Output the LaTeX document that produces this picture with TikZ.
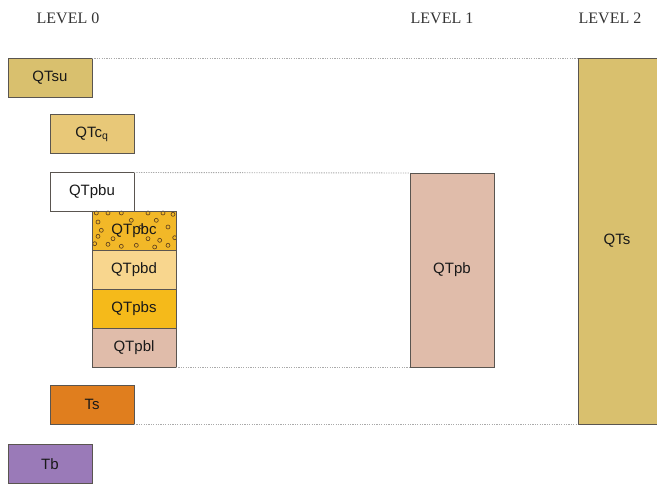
\documentclass[tikz,border=0pt]{standalone}
\usepackage{fontspec}
\setmainfont{Liberation Serif}
\newfontfamily\boxfont{Liberation Sans}
\definecolor{gold}{RGB}{217,192,110}
\definecolor{goldlight}{RGB}{232,200,120}
\definecolor{amber}{RGB}{242,184,40}
\definecolor{sand}{RGB}{248,214,142}
\definecolor{saffron}{RGB}{245,186,26}
\definecolor{rosebeige}{RGB}{224,188,170}
\definecolor{burnt}{RGB}{224,126,30}
\definecolor{lavender}{RGB}{154,122,184}
\definecolor{edge}{RGB}{90,85,80}
\definecolor{dotline}{RGB}{170,170,170}
\tikzset{
  unitfont/.style={font=\boxfont\fontsize{15}{17}\selectfont, text=black!90},
  unit/.style={draw=edge, line width=0.9pt, inner sep=0pt, outer sep=0pt,
    minimum width=84pt, minimum height=39pt, unitfont},
  guide/.style={draw=dotline, line width=0.9pt, dash pattern=on 1.2pt off 1.2pt},
  level/.style={font=\fontsize{16}{19}\selectfont, text=black!80},
  grain/.style={draw=black!55!brown, line width=0.6pt}
}
\begin{document}
\begin{tikzpicture}[x=1pt,y=-1pt]
\useasboundingbox (0,0) rectangle (657,484);
\clip (0,0) rectangle (657,484);

% level headings
\node[level] (l0) at (68,18) {LEVEL 0};
\node[level] (l1) at (442,18) {LEVEL 1};
\node[level] (l2) at (610,18) {LEVEL 2};

% level 0 units
\node[unit, fill=gold] (qtsu) at (50,77.5) {QTsu};
\node[unit, fill=goldlight] (qtcq) at (92,134) {QTc\textsubscript{q}};
\node[unit, fill=white] (qtpbu) at (92,192) {QTpbu};
\node[unit, fill=amber] (qtpbc) at (134,230.5) {};
\node[unit, fill=sand] (qtpbd) at (134,269.5) {QTpbd};
\node[unit, fill=saffron] (qtpbs) at (134,308.5) {QTpbs};
\node[unit, fill=rosebeige] (qtpbl) at (134,347.5) {QTpbl};
\node[unit, fill=burnt] (ts) at (92,404.5) {Ts};
\node[unit, fill=lavender] (tb) at (50,464) {Tb};

% gravel texture of QTpbc
\begin{scope}
\clip (qtpbc.south west) rectangle (qtpbc.north east);
\foreach \px/\py in {96.3/213,108/213,121.3/213,148/213,163/213,173/214.3,
  98/222,131.3/220.3,156.3/220.3,101.3/230.3,141.3/227,168/227,
  98/236.3,113/238.7,148/238.7,159.7/240.3,174.7/237.7,
  94.7/243.7,108/244.3,121.3/246.3,136.3/245.3,154.7/247,168/245.3}
  \draw[grain] (\px,\py) circle (2pt);
\end{scope}
\node[unit, fill=none] (qtpbclabel) at (qtpbc) {QTpbc};

% level 1 and level 2 units
\node[unit, fill=rosebeige, minimum height=194pt] (qtpb) at (452,270) {QTpb};
\node[unit, fill=gold, minimum width=83pt, minimum height=366pt] (qts) at (619.5,241) {};
\node[unitfont] (qtslabel) at (617,241) {QTs};

% correlation guides
\draw[guide] (qtsu.north east) -- (qts.north west);
\draw[guide] (qtpbu.north east) -- (qtpb.north west);
\draw[guide] (qtpbl.south east) -- (qtpb.south west);
\draw[guide] (ts.south east) -- (qts.south west);
\end{tikzpicture}
\end{document}
